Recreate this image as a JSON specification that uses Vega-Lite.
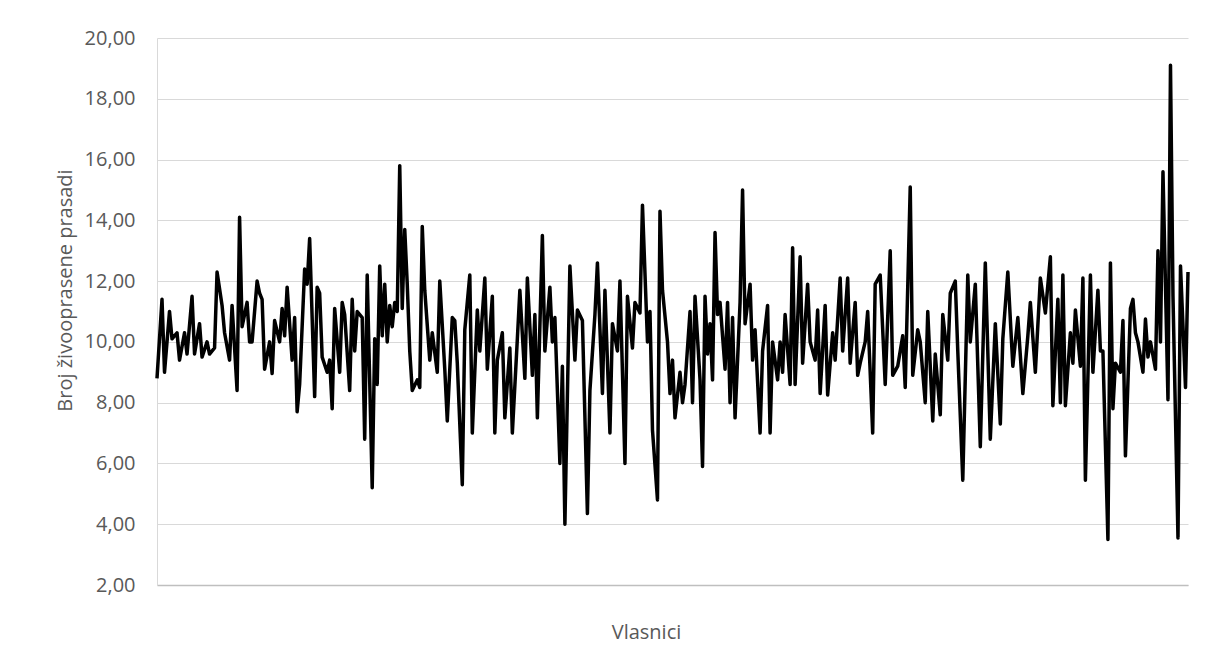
{
  "$schema": "https://vega.github.io/schema/vega-lite/v6.json",
  "autosize": {"type": "none"},
  "padding": {"left": 157, "top": 38, "right": 18, "bottom": 72},
  "width": 1031,
  "height": 547,
  "background": "white",
  "config": {
    "view": {"stroke": null},
    "font": "Open Sans"
  },
  "data": {"values": [
    {"i":1,"v":8.8},{"i":3,"v":11.4},{"i":4,"v":9.0},{"i":6,"v":11.0},{"i":7,"v":10.1},{"i":9,"v":10.3},{"i":10,"v":9.4},{"i":12,"v":10.3},{"i":13,"v":9.6},{"i":15,"v":11.5},
    {"i":16,"v":9.6},{"i":18,"v":10.6},{"i":19,"v":9.5},{"i":21,"v":10.0},{"i":22,"v":9.6},{"i":24,"v":9.8},{"i":25,"v":12.3},{"i":27,"v":11.2},{"i":28,"v":10.3},{"i":30,"v":9.4},
    {"i":31,"v":11.2},{"i":33,"v":8.4},{"i":34,"v":14.1},{"i":35,"v":10.5},{"i":37,"v":11.3},{"i":38,"v":10.0},{"i":39,"v":10.0},{"i":41,"v":12.0},
    {"i":42,"v":11.6},{"i":43,"v":11.4},{"i":44,"v":9.1},{"i":46,"v":10.0},{"i":47,"v":8.96},{"i":48,"v":10.7},{"i":50,"v":10.0},{"i":51,"v":11.1},{"i":52,"v":10.2},{"i":53,"v":11.8},
    {"i":55,"v":9.4},{"i":56,"v":10.8},{"i":57,"v":7.7},{"i":58,"v":8.6},{"i":60,"v":12.4},{"i":61,"v":11.9},{"i":62,"v":13.4},{"i":64,"v":8.2},{"i":65,"v":11.8},{"i":66,"v":11.6},
    {"i":67,"v":9.5},{"i":69,"v":9.0},{"i":70,"v":9.4},{"i":71,"v":7.8},{"i":72,"v":11.1},{"i":74,"v":9.0},{"i":75,"v":11.3},{"i":76,"v":10.9},{"i":78,"v":8.4},{"i":79,"v":11.4},
    {"i":80,"v":9.7},{"i":81,"v":11.0},{"i":83,"v":10.8},{"i":84,"v":6.8},
    {"i":85,"v":12.2},{"i":87,"v":5.2},{"i":88,"v":10.1},{"i":89,"v":8.6},{"i":90,"v":12.5},{"i":91,"v":10.2},{"i":92,"v":11.9},{"i":93,"v":10.0},{"i":94,"v":11.2},{"i":95,"v":10.5},
    {"i":96,"v":11.3},{"i":97,"v":11.0},{"i":98,"v":15.8},{"i":99,"v":11.1},{"i":100,"v":13.7},{"i":101,"v":11.9},{"i":102,"v":9.7},{"i":103,"v":8.4},{"i":105,"v":8.75},{"i":106,"v":8.5},
    {"i":107,"v":13.8},{"i":108,"v":11.7},{"i":110,"v":9.4},{"i":111,"v":10.3},{"i":113,"v":9.0},{"i":114,"v":12.0},{"i":116,"v":9.1},{"i":117,"v":7.4},{"i":119,"v":10.8},{"i":120,"v":10.7},
    {"i":121,"v":9.3},{"i":123,"v":5.3},{"i":124,"v":10.4},
    {"i":126,"v":12.2},{"i":127,"v":7.0},{"i":129,"v":11.05},{"i":130,"v":9.7},{"i":132,"v":12.1},{"i":133,"v":9.1},{"i":135,"v":11.5},{"i":136,"v":7.0},{"i":137,"v":9.4},{"i":139,"v":10.3},
    {"i":140,"v":7.5},{"i":142,"v":9.8},{"i":143,"v":7.0},{"i":145,"v":10.1},{"i":146,"v":11.7},{"i":148,"v":8.8},{"i":149,"v":12.1},{"i":151,"v":8.9},{"i":152,"v":10.9},{"i":153,"v":7.5},
    {"i":155,"v":13.5},{"i":156,"v":9.7},{"i":158,"v":11.8},{"i":159,"v":10.0},{"i":160,"v":10.8},{"i":162,"v":6.0},{"i":163,"v":9.2},{"i":164,"v":4.0},{"i":166,"v":12.5},
    {"i":168,"v":9.4},{"i":169,"v":11.05},{"i":171,"v":10.7},{"i":173,"v":4.35},{"i":174,"v":8.4},{"i":176,"v":10.9},{"i":177,"v":12.6},{"i":179,"v":8.3},{"i":180,"v":11.7},{"i":182,"v":7.0},
    {"i":183,"v":10.6},{"i":185,"v":9.7},{"i":186,"v":12.0},{"i":188,"v":6.0},{"i":189,"v":11.5},{"i":191,"v":9.8},{"i":192,"v":11.3},{"i":194,"v":10.95},{"i":195,"v":14.5},{"i":197,"v":10.0},
    {"i":198,"v":11.0},{"i":199,"v":7.1},{"i":201,"v":4.8},{"i":202,"v":14.3},{"i":203,"v":11.7},{"i":205,"v":10.0},{"i":206,"v":8.3},{"i":207,"v":9.4},{"i":208,"v":7.5},
    {"i":210,"v":9.0},{"i":211,"v":8.0},{"i":212,"v":8.6},{"i":214,"v":11.0},{"i":215,"v":8.0},{"i":216,"v":11.5},{"i":218,"v":8.75},{"i":219,"v":5.9},{"i":220,"v":11.5},{"i":221,"v":9.6},
    {"i":222,"v":10.6},{"i":223,"v":8.75},{"i":224,"v":13.6},{"i":225,"v":10.9},{"i":226,"v":11.3},{"i":228,"v":9.1},{"i":229,"v":11.3},{"i":230,"v":8.0},{"i":231,"v":10.8},{"i":232,"v":7.5},
    {"i":234,"v":11.3},{"i":235,"v":15.0},{"i":236,"v":10.6},{"i":238,"v":11.9},{"i":239,"v":9.4},{"i":240,"v":10.4},{"i":242,"v":7.0},{"i":243,"v":9.7},{"i":245,"v":11.2},{"i":246,"v":7.0},
    {"i":247,"v":10.0},{"i":249,"v":8.75},{"i":250,"v":10.0},{"i":251,"v":9.0},{"i":252,"v":10.9},
    {"i":254,"v":8.6},{"i":255,"v":13.1},{"i":256,"v":8.6},{"i":258,"v":12.8},{"i":259,"v":9.3},{"i":261,"v":11.9},{"i":262,"v":10.0},{"i":264,"v":9.4},{"i":265,"v":11.05},{"i":266,"v":8.3},
    {"i":268,"v":11.2},{"i":269,"v":8.25},{"i":271,"v":10.3},{"i":272,"v":9.4},{"i":274,"v":12.1},{"i":275,"v":9.7},{"i":277,"v":12.1},{"i":278,"v":9.3},{"i":280,"v":11.3},{"i":281,"v":8.9},
    {"i":282,"v":9.3},{"i":284,"v":10.0},{"i":285,"v":11.0},{"i":287,"v":7.0},{"i":288,"v":11.9},{"i":290,"v":12.2},{"i":292,"v":8.6},{"i":294,"v":13.0},
    {"i":295,"v":8.9},{"i":297,"v":9.2},{"i":299,"v":10.2},{"i":300,"v":8.5},{"i":302,"v":15.1},{"i":303,"v":8.9},{"i":305,"v":10.4},{"i":306,"v":10.0},{"i":308,"v":8.0},{"i":309,"v":11.0},
    {"i":311,"v":7.4},{"i":312,"v":9.6},{"i":314,"v":7.6},{"i":315,"v":10.9},{"i":317,"v":9.4},{"i":318,"v":11.6},{"i":320,"v":12.0},{"i":321,"v":9.7},{"i":323,"v":5.45},{"i":325,"v":12.2},
    {"i":326,"v":10.0},{"i":328,"v":11.9},{"i":330,"v":6.55},{"i":332,"v":12.6},{"i":334,"v":6.8},{"i":336,"v":10.6},
    {"i":338,"v":7.3},{"i":339,"v":10.1},{"i":341,"v":12.3},{"i":343,"v":9.2},{"i":345,"v":10.8},{"i":347,"v":8.3},{"i":349,"v":10.2},{"i":350,"v":11.3},{"i":352,"v":9.0},{"i":354,"v":12.1},
    {"i":356,"v":10.95},{"i":358,"v":12.8},{"i":359,"v":7.9},{"i":361,"v":11.4},{"i":362,"v":8.0},{"i":363,"v":12.2},{"i":364,"v":7.9},{"i":366,"v":10.3},{"i":367,"v":9.3},{"i":368,"v":11.05},
    {"i":370,"v":9.2},{"i":371,"v":12.1},{"i":372,"v":5.45},{"i":374,"v":12.2},{"i":375,"v":9.0},{"i":377,"v":11.7},
    {"i":378,"v":9.7},{"i":379,"v":9.7},{"i":381,"v":3.5},{"i":382,"v":12.6},{"i":383,"v":7.8},{"i":384,"v":9.3},{"i":386,"v":9.0},{"i":387,"v":10.7},{"i":388,"v":6.25},{"i":390,"v":11.1},
    {"i":391,"v":11.4},{"i":392,"v":10.3},{"i":393,"v":10.0},{"i":395,"v":9.0},{"i":396,"v":10.75},{"i":397,"v":9.5},{"i":398,"v":10.0},{"i":400,"v":9.1},{"i":401,"v":13.0},{"i":402,"v":10.0},
    {"i":403,"v":15.6},{"i":405,"v":8.1},{"i":406,"v":19.1},{"i":407,"v":11.5},{"i":409,"v":3.55},{"i":410,"v":12.5},{"i":412,"v":8.5},{"i":413,"v":12.3}
  ]},
  "mark": {"type": "line", "color": "black", "strokeWidth": 3.5, "strokeJoin": "round"},
  "encoding": {
    "x": {
      "field": "i", "type": "quantitative",
      "scale": {"domain": [1, 413], "nice": false, "zero": false},
      "axis": {
        "title": "Vlasnici", "labels": false, "ticks": false, "grid": false,
        "domain": true, "domainColor": "#bfbfbf", "domainWidth": 1.5,
        "titleFont": "Open Sans", "titleFontSize": 20, "titleFontWeight": "normal", "titleColor": "#595959",
        "titleX": 489, "titleY": 47, "titleBaseline": "middle"
      }
    },
    "y": {
      "field": "v", "type": "quantitative",
      "scale": {"domain": [2, 20], "nice": false, "zero": false},
      "axis": {
        "title": "Broj živooprasene prasadi",
        "values": [2, 4, 6, 8, 10, 12, 14, 16, 18, 20],
        "labelExpr": "replace(format(datum.value, '.2f'), '.', ',')",
        "ticks": false, "labelPadding": 22,
        "labelFont": "Open Sans", "labelFontSize": 20, "labelColor": "#595959",
        "grid": true, "gridColor": "#d9d9d9", "gridWidth": 1.2,
        "domain": true, "domainColor": "#d9d9d9", "domainWidth": 1,
        "titleFont": "Open Sans", "titleFontSize": 20, "titleFontWeight": "normal", "titleColor": "#595959",
        "titleX": -92, "titleY": 252, "titleBaseline": "middle", "titleAngle": -90
      }
    }
  }
}
